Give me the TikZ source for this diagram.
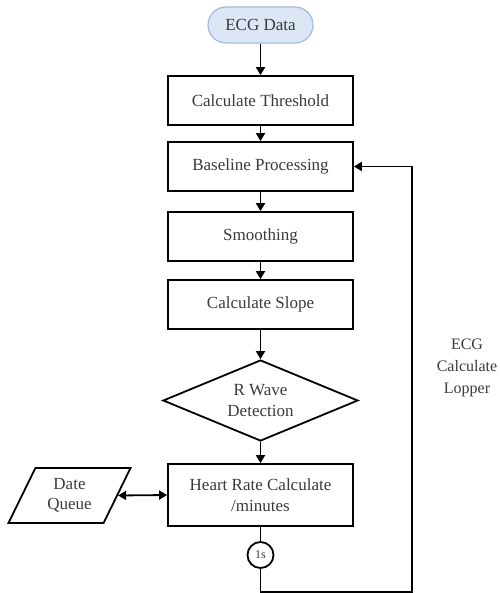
\documentclass[tikz,border=0pt]{standalone}
\usepackage{fontspec}
\setmainfont{Liberation Serif}
\usetikzlibrary{arrows.meta,shapes.geometric}
\definecolor{txt}{HTML}{3A3A3A}
\definecolor{pillfill}{HTML}{DCE6F4}
\definecolor{pilldraw}{HTML}{A3BCDF}
\tikzset{
  base/.style={line width=1.8pt, draw=black, text=txt, font=\fontsize{17}{20.5}\selectfont, align=center, inner sep=0pt},
  procbox/.style={base, rectangle, minimum width=185pt, minimum height=49pt},
  arr/.style={line width=1.8pt, -{Triangle[length=8pt,width=9pt]}},
  dblarr/.style={line width=1.8pt, {Triangle[length=8pt,width=9pt]}-{Triangle[length=8pt,width=9pt]}},
  plain/.style={line width=1.8pt}
}
\begin{document}
\begin{tikzpicture}[x=1pt,y=-1pt]
\useasboundingbox (0,0) rectangle (499,593);
\node[base, draw=pilldraw, fill=pillfill, line width=1.2pt, rounded corners=18pt, minimum width=105pt, minimum height=36pt] (ecg) at (260.5,25) {ECG Data};
\node[procbox] (th) at (260.5,100.5) {Calculate Threshold};
\node[procbox] (bp) at (260.5,166.5) {Baseline Processing};
\node[procbox] (sm) at (260.5,236.5) {Smoothing};
\node[procbox] (sl) at (260.5,304.5) {Calculate Slope};
\node[base, diamond, aspect=2.4, minimum width=195pt, minimum height=81pt] (rw) at (260.5,400.5) {R Wave\\Detection};
\node[procbox, minimum height=62pt] (hr) at (260.5,495) {Heart Rate Calculate\\/minutes};
\node[base, trapezium, trapezium left angle=63, trapezium right angle=117, trapezium stretches=true, minimum width=123pt, minimum height=55pt] (dq) at (69.5,495.5) {Date\\Queue};
\node[base, circle, minimum size=26pt, font=\fontsize{12}{14}\selectfont] (one) at (260.5,555) {1s};
\node[text=txt, font=\fontsize{16}{22}\selectfont, align=center, inner sep=0pt] (lop) at (467,368) {ECG\\Calculate\\Lopper};
\coordinate (c1) at (260.5,592);
\coordinate (c2) at (412,592);
\draw[arr] (ecg) -- (th);
\draw[arr] (th) -- (bp);
\draw[arr] (bp) -- (sm);
\draw[arr] (sm) -- (sl);
\draw[arr] (sl) -- (rw);
\draw[arr] (rw) -- (hr);
\draw[dblarr] (dq.east) -- (hr.west);
\draw[plain] (hr) -- (one);
\draw[arr] (one) -- (c1) -- (c2) |- (bp.east);
\end{tikzpicture}
\end{document}
